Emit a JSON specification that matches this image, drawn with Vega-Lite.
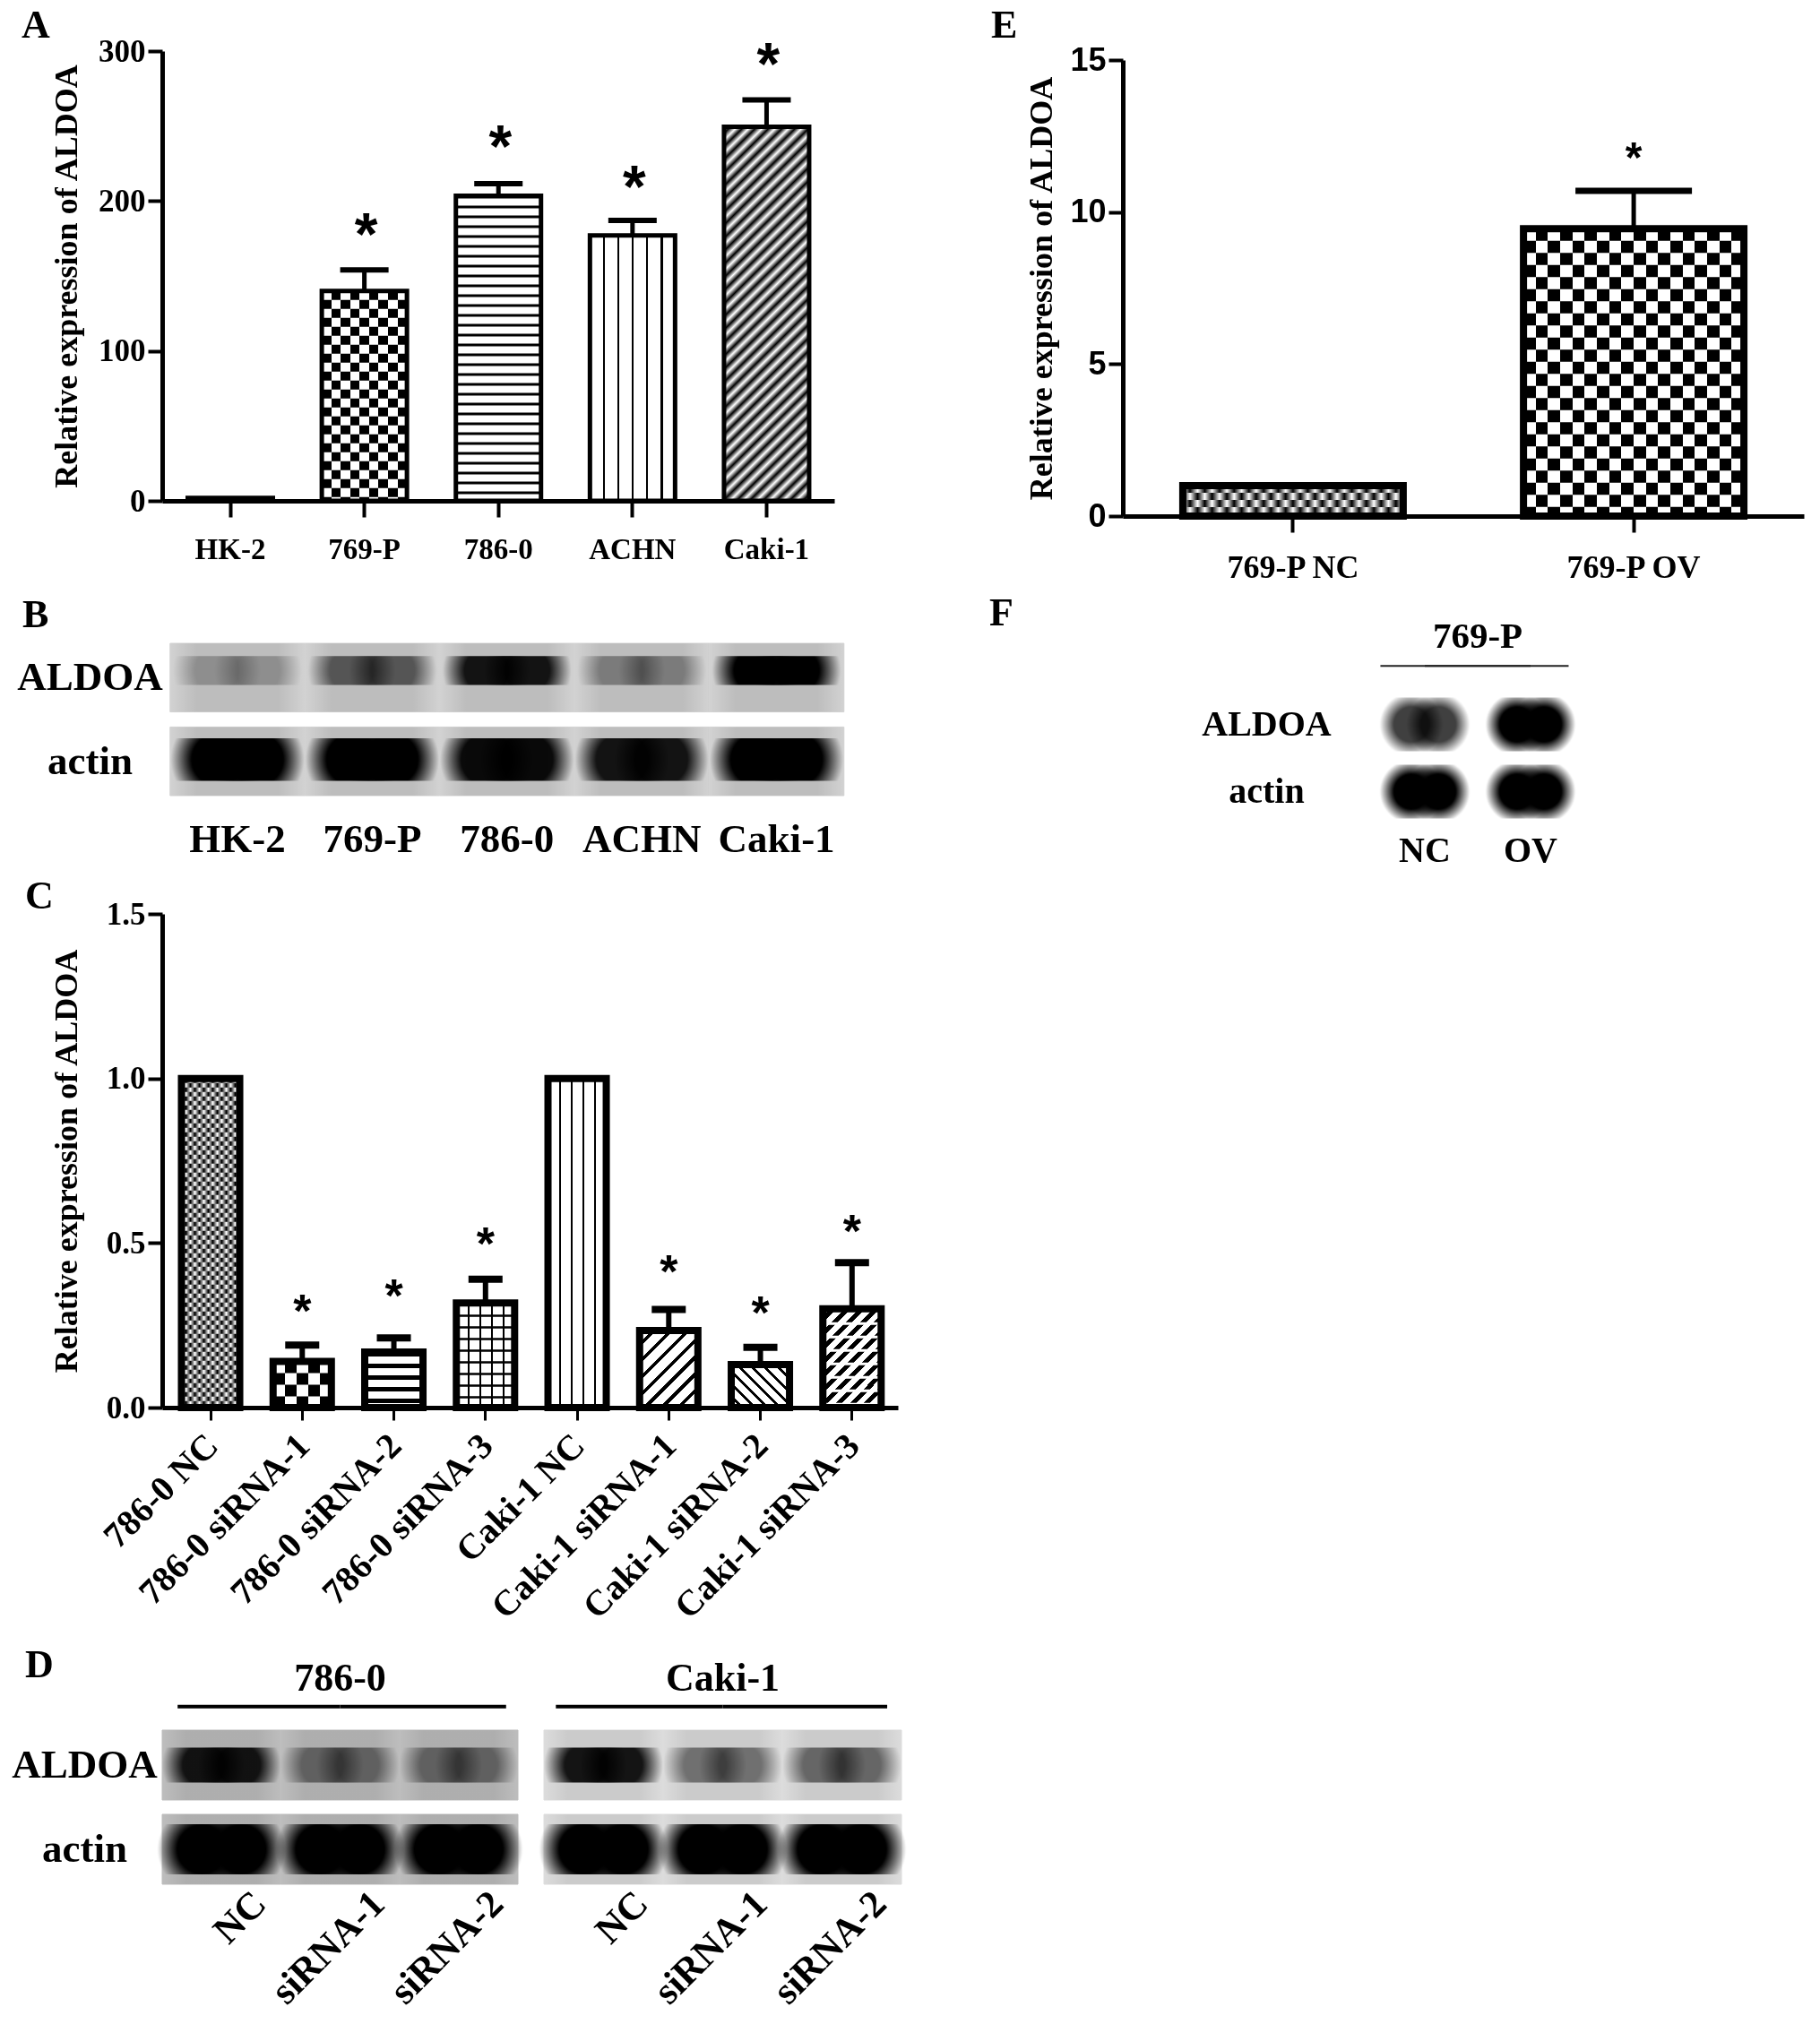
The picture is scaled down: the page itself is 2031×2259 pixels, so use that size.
{"$schema":"https://vega.github.io/schema/vega-lite/v6.json","padding":{"left":12,"top":7,"right":5,"bottom":5},"background":"white",
"config":{"view":{"stroke":null},"title":{"font":"Liberation Serif","fontSize":44,"fontWeight":"bold","color":"#000","anchor":"start","frame":"group"},"axis":{"grid":false,"labelFont":"Liberation Serif","titleFont":"Liberation Serif","labelFontWeight":"bold","titleFontWeight":"bold","labelColor":"#000","titleColor":"#000","domainColor":"#000","tickColor":"#000","labelOverlap":false,"labelLimit":600}},
"datasets":{
"a":[{"cell":"HK-2","value":2},{"cell":"769-P","value":140,"err":154,"star":182},{"cell":"786-0","value":203.5,"err":211.5,"star":241},{"cell":"ACHN","value":177,"err":187,"star":214},{"cell":"Caki-1","value":249.5,"err":267.5,"star":296}],
"c":[{"cell":"786-0 NC","value":1},{"cell":"786-0 siRNA-1","value":0.14,"err":0.19,"star":0.312},{"cell":"786-0 siRNA-2","value":0.169,"err":0.212,"star":0.358},{"cell":"786-0 siRNA-3","value":0.318,"err":0.39,"star":0.517},{"cell":"Caki-1 NC","value":1},{"cell":"Caki-1 siRNA-1","value":0.234,"err":0.298,"star":0.434},{"cell":"Caki-1 siRNA-2","value":0.131,"err":0.183,"star":0.307},{"cell":"Caki-1 siRNA-3","value":0.3,"err":0.44,"star":0.555}],
"e":[{"cell":"769-P NC","value":1},{"cell":"769-P OV","value":9.45,"err":10.7,"star":11.97}],
"b":[{"lane":"HK-2","row":"ALDOA","v":0.25},{"lane":"769-P","row":"ALDOA","v":0.55},{"lane":"786-0","row":"ALDOA","v":0.9},{"lane":"ACHN","row":"ALDOA","v":0.35},{"lane":"Caki-1","row":"ALDOA","v":1},{"lane":"HK-2","row":"actin","v":1},{"lane":"769-P","row":"actin","v":1},{"lane":"786-0","row":"actin","v":0.95},{"lane":"ACHN","row":"actin","v":0.9},{"lane":"Caki-1","row":"actin","v":1}],
"d1":[{"lane":"NC","row":"ALDOA","v":0.9},{"lane":"siRNA-1","row":"ALDOA","v":0.45},{"lane":"siRNA-2","row":"ALDOA","v":0.45},{"lane":"NC","row":"actin","v":1},{"lane":"siRNA-1","row":"actin","v":1},{"lane":"siRNA-2","row":"actin","v":1}],
"d2":[{"lane":"NC","row":"ALDOA","v":0.9},{"lane":"siRNA-1","row":"ALDOA","v":0.45},{"lane":"siRNA-2","row":"ALDOA","v":0.5},{"lane":"NC","row":"actin","v":1},{"lane":"siRNA-1","row":"actin","v":1},{"lane":"siRNA-2","row":"actin","v":1}],
"f":[{"lane":"NC","row":"ALDOA","v":0.75},{"lane":"OV","row":"ALDOA","v":1},{"lane":"NC","row":"actin","v":1},{"lane":"OV","row":"actin","v":1}]
},
"hconcat":[
{"vconcat":[
{"vconcat":[
{"title":{"text":"A","dx":-157,"offset":12,"dy":23},"width":750,"height":502,"data":{"name":"a"},
"encoding":{"x":{"field":"cell","type":"nominal","scale":{"domain":["HK-2","769-P","786-0","ACHN","Caki-1"],"paddingInner":0.365,"paddingOuter":0.189,"align":0.504},"axis":{"title":null,"labelAngle":0,"labelFontSize":33,"domainWidth":5,"tickWidth":4,"tickSize":18,"labelPadding":20}},
"y":{"field":"value","type":"quantitative","scale":{"domain":[0,300],"nice":false},"axis":{"title":"Relative expression of ALDOA","titleFontSize":36,"labelFontSize":35,"values":[0,100,200,300],"domainWidth":5,"tickWidth":4,"tickSize":16,"labelPadding":3,"titlePadding":16}}},
"layer":[
{"transform":[{"filter":"datum.cell=='769-P'"}],"mark":{"type":"bar","fill":{"gradient":"linear","x1":0,"y1":0,"x2":1,"y2":0,"stops":[{"offset":0,"color":"#000"},{"offset":0.111,"color":"#000"},{"offset":0.111,"color":"#fff"},{"offset":0.222,"color":"#fff"},{"offset":0.222,"color":"#000"},{"offset":0.333,"color":"#000"},{"offset":0.333,"color":"#fff"},{"offset":0.444,"color":"#fff"},{"offset":0.444,"color":"#000"},{"offset":0.556,"color":"#000"},{"offset":0.556,"color":"#fff"},{"offset":0.667,"color":"#fff"},{"offset":0.667,"color":"#000"},{"offset":0.778,"color":"#000"},{"offset":0.778,"color":"#fff"},{"offset":0.889,"color":"#fff"},{"offset":0.889,"color":"#000"},{"offset":1,"color":"#000"}]}}},
{"transform":[{"filter":"datum.cell=='769-P'"}],"mark":{"type":"rule","stroke":"#fff","strokeWidth":95,"strokeDash":[10,10],"blend":"difference"},"encoding":{"y2":{"datum":0}}},
{"transform":[{"filter":"datum.cell=='786-0'"}],"mark":{"type":"rule","stroke":"#000","strokeWidth":95,"strokeDash":[3,8]},"encoding":{"y2":{"datum":0}}},
{"transform":[{"filter":"datum.cell=='ACHN'"}],"mark":{"type":"bar","fill":{"gradient":"linear","x1":0,"y1":0,"x2":1,"y2":0,"stops":[{"offset":0.15,"color":"#fff"},{"offset":0.15,"color":"#000"},{"offset":0.175,"color":"#000"},{"offset":0.175,"color":"#fff"},{"offset":0.32,"color":"#fff"},{"offset":0.32,"color":"#000"},{"offset":0.345,"color":"#000"},{"offset":0.345,"color":"#fff"},{"offset":0.49,"color":"#fff"},{"offset":0.49,"color":"#000"},{"offset":0.515,"color":"#000"},{"offset":0.515,"color":"#fff"},{"offset":0.66,"color":"#fff"},{"offset":0.66,"color":"#000"},{"offset":0.685,"color":"#000"},{"offset":0.685,"color":"#fff"},{"offset":0.83,"color":"#fff"},{"offset":0.83,"color":"#000"},{"offset":0.855,"color":"#000"},{"offset":0.855,"color":"#fff"}]}}},
{"transform":[{"filter":"datum.cell=='Caki-1'"}],"mark":{"type":"bar","fill":{"gradient":"linear","x1":0,"y1":0,"x2":0.262,"y2":1.166,"stops":[{"offset":0,"color":"#fff"},{"offset":0.014,"color":"#000"},{"offset":0.029,"color":"#fff"},{"offset":0.043,"color":"#000"},{"offset":0.057,"color":"#fff"},{"offset":0.071,"color":"#000"},{"offset":0.086,"color":"#fff"},{"offset":0.1,"color":"#000"},{"offset":0.114,"color":"#fff"},{"offset":0.129,"color":"#000"},{"offset":0.143,"color":"#fff"},{"offset":0.157,"color":"#000"},{"offset":0.171,"color":"#fff"},{"offset":0.186,"color":"#000"},{"offset":0.2,"color":"#fff"},{"offset":0.214,"color":"#000"},{"offset":0.229,"color":"#fff"},{"offset":0.243,"color":"#000"},{"offset":0.257,"color":"#fff"},{"offset":0.271,"color":"#000"},{"offset":0.286,"color":"#fff"},{"offset":0.3,"color":"#000"},{"offset":0.314,"color":"#fff"},{"offset":0.329,"color":"#000"},{"offset":0.343,"color":"#fff"},{"offset":0.357,"color":"#000"},{"offset":0.371,"color":"#fff"},{"offset":0.386,"color":"#000"},{"offset":0.4,"color":"#fff"},{"offset":0.414,"color":"#000"},{"offset":0.429,"color":"#fff"},{"offset":0.443,"color":"#000"},{"offset":0.457,"color":"#fff"},{"offset":0.471,"color":"#000"},{"offset":0.486,"color":"#fff"},{"offset":0.5,"color":"#000"},{"offset":0.514,"color":"#fff"},{"offset":0.529,"color":"#000"},{"offset":0.543,"color":"#fff"},{"offset":0.557,"color":"#000"},{"offset":0.571,"color":"#fff"},{"offset":0.586,"color":"#000"},{"offset":0.6,"color":"#fff"},{"offset":0.614,"color":"#000"},{"offset":0.629,"color":"#fff"},{"offset":0.643,"color":"#000"},{"offset":0.657,"color":"#fff"},{"offset":0.671,"color":"#000"},{"offset":0.686,"color":"#fff"},{"offset":0.7,"color":"#000"},{"offset":0.714,"color":"#fff"},{"offset":0.729,"color":"#000"},{"offset":0.743,"color":"#fff"},{"offset":0.757,"color":"#000"},{"offset":0.771,"color":"#fff"},{"offset":0.786,"color":"#000"},{"offset":0.8,"color":"#fff"},{"offset":0.814,"color":"#000"},{"offset":0.829,"color":"#fff"},{"offset":0.843,"color":"#000"},{"offset":0.857,"color":"#fff"},{"offset":0.871,"color":"#000"},{"offset":0.886,"color":"#fff"},{"offset":0.9,"color":"#000"},{"offset":0.914,"color":"#fff"},{"offset":0.929,"color":"#000"},{"offset":0.943,"color":"#fff"},{"offset":0.957,"color":"#000"},{"offset":0.971,"color":"#fff"},{"offset":0.986,"color":"#000"},{"offset":1,"color":"#fff"}]}}},
{"mark":{"type":"rule","stroke":"#000","strokeWidth":5},"encoding":{"y2":{"field":"err"}},"transform":[{"filter":"datum.err>0"}]},
{"mark":{"type":"tick","orient":"horizontal","color":"#000","size":54,"thickness":6,"opacity":1},"encoding":{"y":{"field":"err","type":"quantitative"}},"transform":[{"filter":"datum.err>0"}]},
{"mark":{"type":"bar","fillOpacity":0,"stroke":"#000","strokeWidth":5}},
{"mark":{"type":"text","font":"Liberation Sans","fontWeight":"bold","fontSize":66,"color":"#000","baseline":"middle","dy":10,"dx":2},"encoding":{"y":{"field":"star","type":"quantitative"},"text":{"value":"*"}},"transform":[{"filter":"datum.star>0"}]}
]},
{"title":{"text":"B","dx":-156,"offset":9},"width":763,"height":170,"data":{"name":"b"},
"encoding":{"x":{"field":"lane","type":"nominal","scale":{"domain":["HK-2","769-P","786-0","ACHN","Caki-1"],"paddingInner":0,"paddingOuter":0.0366,"align":0.8},"axis":{"title":null,"labelAngle":0,"labelFontSize":45,"domain":false,"ticks":false,"labelPadding":26}},
"y":{"field":"row","type":"nominal","scale":{"domain":["ALDOA","actin"],"paddingInner":0.18,"paddingOuter":0},"axis":{"title":null,"domain":false,"ticks":false,"labelFontSize":45,"labelAlign":"center","labelPadding":81}},"opacity":{"field":"v","type":"quantitative","scale":{"domain":[0,1],"range":[0,1]},"legend":null}},
"layer":[
{"mark":{"type":"bar","fill":"#d2d2d2","stroke":"#d2d2d2","strokeWidth":1},"encoding":{"opacity":{"value":1}}},
{"mark":{"type":"bar","width":{"band":1},"fill":{"gradient":"linear","x1":0,"y1":0,"x2":1,"y2":0,"stops":[{"offset":0,"color":"rgba(0,0,0,0)"},{"offset":0.2,"color":"rgba(0,0,0,0.1)"},{"offset":0.8,"color":"rgba(0,0,0,0.1)"},{"offset":1,"color":"rgba(0,0,0,0)"}]}},"encoding":{"opacity":{"value":1}}},
{"transform":[{"filter":"datum.row=='ALDOA'"}],"mark":{"type":"bar","width":{"band":0.65},"height":{"band":0.42},"xOffset":-23,"yOffset":-8,"fill":{"gradient":"radial","stops":[{"offset":0,"color":"#000"},{"offset":0.5,"color":"#000"},{"offset":1,"color":"rgba(0,0,0,0)"}]}}},
{"transform":[{"filter":"datum.row=='ALDOA'"}],"mark":{"type":"bar","width":{"band":0.65},"height":{"band":0.42},"xOffset":23,"yOffset":-8,"fill":{"gradient":"radial","stops":[{"offset":0,"color":"#000"},{"offset":0.5,"color":"#000"},{"offset":1,"color":"rgba(0,0,0,0)"}]}}},
{"transform":[{"filter":"datum.row=='actin'"}],"mark":{"type":"bar","width":{"band":0.7},"height":{"band":0.62},"xOffset":-22,"yOffset":-2,"fill":{"gradient":"radial","stops":[{"offset":0,"color":"#000"},{"offset":0.55,"color":"#000"},{"offset":1,"color":"rgba(0,0,0,0)"}]}}},
{"transform":[{"filter":"datum.row=='actin'"}],"mark":{"type":"bar","width":{"band":0.7},"height":{"band":0.62},"xOffset":22,"yOffset":-2,"fill":{"gradient":"radial","stops":[{"offset":0,"color":"#000"},{"offset":0.55,"color":"#000"},{"offset":1,"color":"rgba(0,0,0,0)"}]}}}
]}
],"spacing":34,"align":"none"},
{"vconcat":[
{"title":{"text":"C","dx":-153,"offset":2,"dy":22},"width":821,"height":551,"data":{"name":"c"},
"encoding":{"x":{"field":"cell","type":"nominal","scale":{"domain":["786-0 NC","786-0 siRNA-1","786-0 siRNA-2","786-0 siRNA-3","Caki-1 NC","Caki-1 siRNA-1","Caki-1 siRNA-2","Caki-1 siRNA-3"],"paddingInner":0.364,"paddingOuter":0.1965,"align":0.535},"axis":{"title":null,"labelAngle":-45,"labelAlign":"right","labelBaseline":"top","labelFontSize":40,"domainWidth":5,"tickWidth":3,"tickSize":14,"labelPadding":8,"labelOffset":-12}},
"y":{"field":"value","type":"quantitative","scale":{"domain":[0,1.5],"nice":false},"axis":{"title":"Relative expression of ALDOA","titleFontSize":36,"labelFontSize":35,"values":[0,0.5,1,1.5],"format":".1f","domainWidth":5,"tickWidth":4,"tickSize":16,"labelPadding":3,"titlePadding":25}}},
"layer":[
{"transform":[{"filter":"datum.cell=='786-0 NC'"}],"mark":{"type":"bar","fill":{"gradient":"linear","x1":0,"y1":0,"x2":1,"y2":0,"stops":[{"offset":0,"color":"#000"},{"offset":0.077,"color":"#fff"},{"offset":0.154,"color":"#000"},{"offset":0.231,"color":"#fff"},{"offset":0.308,"color":"#000"},{"offset":0.385,"color":"#fff"},{"offset":0.462,"color":"#000"},{"offset":0.538,"color":"#fff"},{"offset":0.615,"color":"#000"},{"offset":0.692,"color":"#fff"},{"offset":0.769,"color":"#000"},{"offset":0.846,"color":"#fff"},{"offset":0.923,"color":"#000"},{"offset":1,"color":"#fff"}]}}},
{"transform":[{"filter":"datum.cell=='786-0 NC'"}],"mark":{"type":"rule","stroke":"#fff","strokeWidth":65,"strokeDash":[5,5],"blend":"difference"},"encoding":{"y2":{"datum":0}}},
{"transform":[{"filter":"datum.cell=='786-0 siRNA-1'"}],"mark":{"type":"bar","fill":{"gradient":"linear","x1":0,"y1":0,"x2":1,"y2":0,"stops":[{"offset":0,"color":"#000"},{"offset":0.2,"color":"#000"},{"offset":0.2,"color":"#fff"},{"offset":0.4,"color":"#fff"},{"offset":0.4,"color":"#000"},{"offset":0.6,"color":"#000"},{"offset":0.6,"color":"#fff"},{"offset":0.8,"color":"#fff"},{"offset":0.8,"color":"#000"},{"offset":1,"color":"#000"}]}}},
{"transform":[{"filter":"datum.cell=='786-0 siRNA-1'"}],"mark":{"type":"rule","stroke":"#fff","strokeWidth":65,"strokeDash":[13,13],"blend":"difference"},"encoding":{"y2":{"datum":0}}},
{"transform":[{"filter":"datum.cell=='786-0 siRNA-2'"}],"mark":{"type":"rule","stroke":"#000","strokeWidth":65,"strokeDash":[5,8]},"encoding":{"y2":{"datum":0}}},
{"transform":[{"filter":"datum.cell=='786-0 siRNA-3'"}],"mark":{"type":"bar","fill":{"gradient":"linear","x1":0,"y1":0,"x2":1,"y2":0,"stops":[{"offset":0.19,"color":"#fff"},{"offset":0.19,"color":"#000"},{"offset":0.23,"color":"#000"},{"offset":0.23,"color":"#fff"},{"offset":0.39,"color":"#fff"},{"offset":0.39,"color":"#000"},{"offset":0.43,"color":"#000"},{"offset":0.43,"color":"#fff"},{"offset":0.59,"color":"#fff"},{"offset":0.59,"color":"#000"},{"offset":0.63,"color":"#000"},{"offset":0.63,"color":"#fff"},{"offset":0.79,"color":"#fff"},{"offset":0.79,"color":"#000"},{"offset":0.83,"color":"#000"},{"offset":0.83,"color":"#fff"}]}}},
{"transform":[{"filter":"datum.cell=='786-0 siRNA-3'"}],"mark":{"type":"rule","stroke":"#000","strokeWidth":65,"strokeDash":[2.5,10.5]},"encoding":{"y2":{"datum":0}}},
{"transform":[{"filter":"datum.cell=='Caki-1 NC'"}],"mark":{"type":"bar","fill":{"gradient":"linear","x1":0,"y1":0,"x2":1,"y2":0,"stops":[{"offset":0.19,"color":"#fff"},{"offset":0.19,"color":"#000"},{"offset":0.22,"color":"#000"},{"offset":0.22,"color":"#fff"},{"offset":0.39,"color":"#fff"},{"offset":0.39,"color":"#000"},{"offset":0.42,"color":"#000"},{"offset":0.42,"color":"#fff"},{"offset":0.59,"color":"#fff"},{"offset":0.59,"color":"#000"},{"offset":0.62,"color":"#000"},{"offset":0.62,"color":"#fff"},{"offset":0.79,"color":"#fff"},{"offset":0.79,"color":"#000"},{"offset":0.82,"color":"#000"},{"offset":0.82,"color":"#fff"}]}}},
{"transform":[{"filter":"datum.cell=='Caki-1 siRNA-1'"}],"mark":{"type":"bar","fill":{"gradient":"linear","x1":0,"y1":0,"x2":0.845,"y2":1.118,"stops":[{"offset":0,"color":"#fff"},{"offset":0.09,"color":"#fff"},{"offset":0.09,"color":"#000"},{"offset":0.125,"color":"#000"},{"offset":0.125,"color":"#fff"},{"offset":0.215,"color":"#fff"},{"offset":0.215,"color":"#000"},{"offset":0.25,"color":"#000"},{"offset":0.25,"color":"#fff"},{"offset":0.34,"color":"#fff"},{"offset":0.34,"color":"#000"},{"offset":0.375,"color":"#000"},{"offset":0.375,"color":"#fff"},{"offset":0.465,"color":"#fff"},{"offset":0.465,"color":"#000"},{"offset":0.5,"color":"#000"},{"offset":0.5,"color":"#fff"},{"offset":0.59,"color":"#fff"},{"offset":0.59,"color":"#000"},{"offset":0.625,"color":"#000"},{"offset":0.625,"color":"#fff"},{"offset":0.715,"color":"#fff"},{"offset":0.715,"color":"#000"},{"offset":0.75,"color":"#000"},{"offset":0.75,"color":"#fff"},{"offset":0.84,"color":"#fff"},{"offset":0.84,"color":"#000"},{"offset":0.875,"color":"#000"},{"offset":0.875,"color":"#fff"}]}}},
{"transform":[{"filter":"datum.cell=='Caki-1 siRNA-2'"}],"mark":{"type":"bar","fill":{"gradient":"linear","x1":0,"y1":1,"x2":1.125,"y2":0.17,"stops":[{"offset":0,"color":"#fff"},{"offset":0.09,"color":"#fff"},{"offset":0.09,"color":"#000"},{"offset":0.125,"color":"#000"},{"offset":0.125,"color":"#fff"},{"offset":0.215,"color":"#fff"},{"offset":0.215,"color":"#000"},{"offset":0.25,"color":"#000"},{"offset":0.25,"color":"#fff"},{"offset":0.34,"color":"#fff"},{"offset":0.34,"color":"#000"},{"offset":0.375,"color":"#000"},{"offset":0.375,"color":"#fff"},{"offset":0.465,"color":"#fff"},{"offset":0.465,"color":"#000"},{"offset":0.5,"color":"#000"},{"offset":0.5,"color":"#fff"},{"offset":0.59,"color":"#fff"},{"offset":0.59,"color":"#000"},{"offset":0.625,"color":"#000"},{"offset":0.625,"color":"#fff"},{"offset":0.715,"color":"#fff"},{"offset":0.715,"color":"#000"},{"offset":0.75,"color":"#000"},{"offset":0.75,"color":"#fff"},{"offset":0.84,"color":"#fff"},{"offset":0.84,"color":"#000"},{"offset":0.875,"color":"#000"},{"offset":0.875,"color":"#fff"}]}}},
{"transform":[{"filter":"datum.cell=='Caki-1 siRNA-3'"}],"mark":{"type":"bar","fill":{"gradient":"linear","x1":0,"y1":0,"x2":0.697,"y2":1.179,"stops":[{"offset":0,"color":"#fff"},{"offset":0.05,"color":"#fff"},{"offset":0.05,"color":"#000"},{"offset":0.09,"color":"#000"},{"offset":0.09,"color":"#fff"},{"offset":0.14,"color":"#fff"},{"offset":0.14,"color":"#000"},{"offset":0.18,"color":"#000"},{"offset":0.18,"color":"#fff"},{"offset":0.23,"color":"#fff"},{"offset":0.23,"color":"#000"},{"offset":0.27,"color":"#000"},{"offset":0.27,"color":"#fff"},{"offset":0.32,"color":"#fff"},{"offset":0.32,"color":"#000"},{"offset":0.36,"color":"#000"},{"offset":0.36,"color":"#fff"},{"offset":0.41,"color":"#fff"},{"offset":0.41,"color":"#000"},{"offset":0.45,"color":"#000"},{"offset":0.45,"color":"#fff"},{"offset":0.5,"color":"#fff"},{"offset":0.5,"color":"#000"},{"offset":0.54,"color":"#000"},{"offset":0.54,"color":"#fff"},{"offset":0.59,"color":"#fff"},{"offset":0.59,"color":"#000"},{"offset":0.63,"color":"#000"},{"offset":0.63,"color":"#fff"},{"offset":0.68,"color":"#fff"},{"offset":0.68,"color":"#000"},{"offset":0.72,"color":"#000"},{"offset":0.72,"color":"#fff"},{"offset":0.77,"color":"#fff"},{"offset":0.77,"color":"#000"},{"offset":0.81,"color":"#000"},{"offset":0.81,"color":"#fff"},{"offset":0.86,"color":"#fff"},{"offset":0.86,"color":"#000"},{"offset":0.9,"color":"#000"},{"offset":0.9,"color":"#fff"}]}}},
{"transform":[{"filter":"datum.cell=='Caki-1 siRNA-3'"}],"mark":{"type":"rule","stroke":"#fff","strokeWidth":65,"strokeDash":[3,12]},"encoding":{"y2":{"datum":0}}},
{"mark":{"type":"rule","stroke":"#000","strokeWidth":6},"encoding":{"y2":{"field":"err"}},"transform":[{"filter":"datum.err>0"}]},
{"mark":{"type":"tick","orient":"horizontal","color":"#000","size":38,"thickness":8,"opacity":1},"encoding":{"y":{"field":"err","type":"quantitative"}},"transform":[{"filter":"datum.err>0"}]},
{"mark":{"type":"bar","fillOpacity":0,"stroke":"#000","strokeWidth":8}},
{"mark":{"type":"text","font":"Liberation Sans","fontWeight":"bold","fontSize":52,"color":"#000","baseline":"middle","dy":9,"dx":0},"encoding":{"y":{"field":"star","type":"quantitative"},"text":{"value":"*"}},"transform":[{"filter":"datum.star>0"}]}
]},
{"hconcat":[
{"title":{"text":"D","dx":-153,"dy":48},"width":397,"height":266,"data":{"name":"d1"},
"encoding":{"x":{"field":"lane","type":"nominal","scale":{"domain":["NC","siRNA-1","siRNA-2"],"paddingInner":0,"paddingOuter":0},"axis":{"title":null,"labelAngle":-45,"labelAlign":"right","labelBaseline":"top","labelFontSize":43,"domain":false,"ticks":false,"labelPadding":0,"labelOffset":28}},
"y":{"field":"row","type":"nominal","scale":{"domain":["hdr","ALDOA","actin"],"paddingInner":0.17,"paddingOuter":0},"axis":{"title":null,"domain":false,"ticks":false,"labelFontSize":45,"labelAlign":"center","labelPadding":87,"labelExpr":"datum.value=='hdr'?'':datum.value"}},"opacity":{"field":"v","type":"quantitative","scale":{"domain":[0,1],"range":[0,1]},"legend":null}},
"layer":[
{"mark":{"type":"bar","fill":"#bdbdbd","stroke":"#bdbdbd","strokeWidth":1},"encoding":{"opacity":{"value":1}}},
{"mark":{"type":"bar","width":{"band":1},"fill":{"gradient":"linear","x1":0,"y1":0,"x2":1,"y2":0,"stops":[{"offset":0,"color":"rgba(0,0,0,0)"},{"offset":0.2,"color":"rgba(0,0,0,0.08)"},{"offset":0.8,"color":"rgba(0,0,0,0.08)"},{"offset":1,"color":"rgba(0,0,0,0)"}]}},"encoding":{"opacity":{"value":1}}},
{"transform":[{"filter":"datum.row=='ALDOA'"}],"mark":{"type":"bar","width":{"band":0.7},"height":{"band":0.5},"xOffset":-20,"fill":{"gradient":"radial","stops":[{"offset":0,"color":"#000"},{"offset":0.5,"color":"#000"},{"offset":1,"color":"rgba(0,0,0,0)"}]}}},
{"transform":[{"filter":"datum.row=='ALDOA'"}],"mark":{"type":"bar","width":{"band":0.7},"height":{"band":0.5},"xOffset":20,"fill":{"gradient":"radial","stops":[{"offset":0,"color":"#000"},{"offset":0.5,"color":"#000"},{"offset":1,"color":"rgba(0,0,0,0)"}]}}},
{"transform":[{"filter":"datum.row=='actin'"}],"mark":{"type":"bar","width":{"band":0.75},"height":{"band":0.72},"xOffset":-22,"fill":{"gradient":"radial","stops":[{"offset":0,"color":"#000"},{"offset":0.55,"color":"#000"},{"offset":1,"color":"rgba(0,0,0,0)"}]}}},
{"transform":[{"filter":"datum.row=='actin'"}],"mark":{"type":"bar","width":{"band":0.75},"height":{"band":0.72},"xOffset":22,"fill":{"gradient":"radial","stops":[{"offset":0,"color":"#000"},{"offset":0.55,"color":"#000"},{"offset":1,"color":"rgba(0,0,0,0)"}]}}},
{"data":{"values":[{"g":"786-0"}]},"mark":{"type":"text","font":"Liberation Serif","fontWeight":"bold","fontSize":44,"color":"#000"},"encoding":{"x":{"datum":"siRNA-1","type":"nominal"},"y":{"datum":"hdr","type":"nominal","bandPosition":0.47},"text":{"field":"g"},"opacity":{"value":1}}},
{"data":{"values":[{"g":"786-0"}]},"mark":{"type":"rule","stroke":"#000","strokeWidth":4},"encoding":{"x":{"datum":"NC","type":"nominal","bandPosition":0.13},"x2":{"datum":"siRNA-1"},"y":{"datum":"hdr","type":"nominal","bandPosition":0.87},"opacity":{"value":1}}},
{"data":{"values":[{"g":"786-0"}]},"mark":{"type":"rule","stroke":"#000","strokeWidth":4},"encoding":{"x":{"datum":"siRNA-2","type":"nominal","bandPosition":0.9},"x2":{"datum":"siRNA-1"},"y":{"datum":"hdr","type":"nominal","bandPosition":0.87},"opacity":{"value":1}}}
]},
{"width":399,"height":266,"data":{"name":"d2"},
"encoding":{"x":{"field":"lane","type":"nominal","scale":{"domain":["NC","siRNA-1","siRNA-2"],"paddingInner":0,"paddingOuter":0},"axis":{"title":null,"labelAngle":-45,"labelAlign":"right","labelBaseline":"top","labelFontSize":43,"domain":false,"ticks":false,"labelPadding":0,"labelOffset":28}},
"y":{"field":"row","type":"nominal","scale":{"domain":["hdr","ALDOA","actin"],"paddingInner":0.17,"paddingOuter":0},"axis":null},"opacity":{"field":"v","type":"quantitative","scale":{"domain":[0,1],"range":[0,1]},"legend":null}},
"layer":[
{"mark":{"type":"bar","fill":"#dcdcdc","stroke":"#dcdcdc","strokeWidth":1},"encoding":{"opacity":{"value":1}}},
{"mark":{"type":"bar","width":{"band":1},"fill":{"gradient":"linear","x1":0,"y1":0,"x2":1,"y2":0,"stops":[{"offset":0,"color":"rgba(0,0,0,0)"},{"offset":0.2,"color":"rgba(0,0,0,0.08)"},{"offset":0.8,"color":"rgba(0,0,0,0.08)"},{"offset":1,"color":"rgba(0,0,0,0)"}]}},"encoding":{"opacity":{"value":1}}},
{"transform":[{"filter":"datum.row=='ALDOA'"}],"mark":{"type":"bar","width":{"band":0.7},"height":{"band":0.5},"xOffset":-20,"fill":{"gradient":"radial","stops":[{"offset":0,"color":"#000"},{"offset":0.5,"color":"#000"},{"offset":1,"color":"rgba(0,0,0,0)"}]}}},
{"transform":[{"filter":"datum.row=='ALDOA'"}],"mark":{"type":"bar","width":{"band":0.7},"height":{"band":0.5},"xOffset":20,"fill":{"gradient":"radial","stops":[{"offset":0,"color":"#000"},{"offset":0.5,"color":"#000"},{"offset":1,"color":"rgba(0,0,0,0)"}]}}},
{"transform":[{"filter":"datum.row=='actin'"}],"mark":{"type":"bar","width":{"band":0.75},"height":{"band":0.72},"xOffset":-22,"fill":{"gradient":"radial","stops":[{"offset":0,"color":"#000"},{"offset":0.55,"color":"#000"},{"offset":1,"color":"rgba(0,0,0,0)"}]}}},
{"transform":[{"filter":"datum.row=='actin'"}],"mark":{"type":"bar","width":{"band":0.75},"height":{"band":0.72},"xOffset":22,"fill":{"gradient":"radial","stops":[{"offset":0,"color":"#000"},{"offset":0.55,"color":"#000"},{"offset":1,"color":"rgba(0,0,0,0)"}]}}},
{"data":{"values":[{"g":"Caki-1"}]},"mark":{"type":"text","font":"Liberation Serif","fontWeight":"bold","fontSize":44,"color":"#000"},"encoding":{"x":{"datum":"siRNA-1","type":"nominal"},"y":{"datum":"hdr","type":"nominal","bandPosition":0.47},"text":{"field":"g"},"opacity":{"value":1}}},
{"data":{"values":[{"g":"Caki-1"}]},"mark":{"type":"rule","stroke":"#000","strokeWidth":4},"encoding":{"x":{"datum":"NC","type":"nominal","bandPosition":0.1},"x2":{"datum":"siRNA-1"},"y":{"datum":"hdr","type":"nominal","bandPosition":0.87},"opacity":{"value":1}}},
{"data":{"values":[{"g":"Caki-1"}]},"mark":{"type":"rule","stroke":"#000","strokeWidth":4},"encoding":{"x":{"datum":"siRNA-2","type":"nominal","bandPosition":0.88},"x2":{"datum":"siRNA-1"},"y":{"datum":"hdr","type":"nominal","bandPosition":0.87},"opacity":{"value":1}}}
]}
],"spacing":17,"align":"none"}
],"spacing":23,"align":"none"}
],"spacing":20,"align":"none"},
{"vconcat":[
{"title":{"text":"E","dx":-147,"offset":12,"dy":14},"width":760,"height":519,"data":{"name":"e"},
"encoding":{"x":{"field":"cell","type":"nominal","scale":{"domain":["769-P NC","769-P OV"],"paddingInner":0.353,"paddingOuter":0.176},"axis":{"title":null,"labelAngle":0,"labelFontSize":36,"domainWidth":5,"tickWidth":4,"tickSize":18,"labelPadding":22}},
"y":{"field":"value","type":"quantitative","scale":{"domain":[0,15],"nice":false,"range":[519,10]},"axis":{"title":"Relative expression of ALDOA","titleFontSize":36,"labelFont":"Liberation Sans","labelFontSize":36,"values":[0,5,10,15],"domainWidth":5,"tickWidth":4,"tickSize":16,"labelPadding":3,"titlePadding":12}}},
"layer":[
{"transform":[{"filter":"datum.cell=='769-P NC'"}],"mark":{"type":"bar","fill":{"gradient":"linear","x1":0,"y1":0,"x2":1,"y2":0,"stops":[{"offset":0,"color":"#000"},{"offset":0.033,"color":"#fff"},{"offset":0.067,"color":"#000"},{"offset":0.1,"color":"#fff"},{"offset":0.133,"color":"#000"},{"offset":0.167,"color":"#fff"},{"offset":0.2,"color":"#000"},{"offset":0.233,"color":"#fff"},{"offset":0.267,"color":"#000"},{"offset":0.3,"color":"#fff"},{"offset":0.333,"color":"#000"},{"offset":0.367,"color":"#fff"},{"offset":0.4,"color":"#000"},{"offset":0.433,"color":"#fff"},{"offset":0.467,"color":"#000"},{"offset":0.5,"color":"#fff"},{"offset":0.533,"color":"#000"},{"offset":0.567,"color":"#fff"},{"offset":0.6,"color":"#000"},{"offset":0.633,"color":"#fff"},{"offset":0.667,"color":"#000"},{"offset":0.7,"color":"#fff"},{"offset":0.733,"color":"#000"},{"offset":0.767,"color":"#fff"},{"offset":0.8,"color":"#000"},{"offset":0.833,"color":"#fff"},{"offset":0.867,"color":"#000"},{"offset":0.9,"color":"#fff"},{"offset":0.933,"color":"#000"},{"offset":0.967,"color":"#fff"},{"offset":1,"color":"#000"}]}}},
{"transform":[{"filter":"datum.cell=='769-P NC'"}],"mark":{"type":"rule","stroke":"#fff","strokeWidth":246,"strokeDash":[8,8],"blend":"difference"},"encoding":{"y2":{"datum":0}}},
{"transform":[{"filter":"datum.cell=='769-P OV'"}],"mark":{"type":"bar","fill":{"gradient":"linear","x1":0,"y1":0,"x2":1,"y2":0,"stops":[{"offset":0,"color":"#000"},{"offset":0.056,"color":"#000"},{"offset":0.056,"color":"#fff"},{"offset":0.111,"color":"#fff"},{"offset":0.111,"color":"#000"},{"offset":0.167,"color":"#000"},{"offset":0.167,"color":"#fff"},{"offset":0.222,"color":"#fff"},{"offset":0.222,"color":"#000"},{"offset":0.278,"color":"#000"},{"offset":0.278,"color":"#fff"},{"offset":0.333,"color":"#fff"},{"offset":0.333,"color":"#000"},{"offset":0.389,"color":"#000"},{"offset":0.389,"color":"#fff"},{"offset":0.444,"color":"#fff"},{"offset":0.444,"color":"#000"},{"offset":0.5,"color":"#000"},{"offset":0.5,"color":"#fff"},{"offset":0.556,"color":"#fff"},{"offset":0.556,"color":"#000"},{"offset":0.611,"color":"#000"},{"offset":0.611,"color":"#fff"},{"offset":0.667,"color":"#fff"},{"offset":0.667,"color":"#000"},{"offset":0.722,"color":"#000"},{"offset":0.722,"color":"#fff"},{"offset":0.778,"color":"#fff"},{"offset":0.778,"color":"#000"},{"offset":0.833,"color":"#000"},{"offset":0.833,"color":"#fff"},{"offset":0.889,"color":"#fff"},{"offset":0.889,"color":"#000"},{"offset":0.944,"color":"#000"},{"offset":0.944,"color":"#fff"},{"offset":1,"color":"#fff"}]}}},
{"transform":[{"filter":"datum.cell=='769-P OV'"}],"mark":{"type":"rule","stroke":"#fff","strokeWidth":246,"strokeDash":[13.5,13.5],"blend":"difference"},"encoding":{"y2":{"datum":0}}},
{"mark":{"type":"rule","stroke":"#000","strokeWidth":5},"encoding":{"y2":{"field":"err"}},"transform":[{"filter":"datum.err>0"}]},
{"mark":{"type":"tick","orient":"horizontal","color":"#000","size":130,"thickness":7,"opacity":1},"encoding":{"y":{"field":"err","type":"quantitative"}},"transform":[{"filter":"datum.err>0"}]},
{"mark":{"type":"bar","fillOpacity":0,"stroke":"#000","strokeWidth":8}},
{"mark":{"type":"text","font":"Liberation Sans","fontWeight":"bold","fontSize":48,"color":"#000","baseline":"middle","dy":8,"dx":0},"encoding":{"y":{"field":"star","type":"quantitative"},"text":{"value":"*"}},"transform":[{"filter":"datum.star>0"}]}
]},
{"title":{"text":"F","dx":-149,"dy":21},"width":514,"height":225,"data":{"name":"f"},
"encoding":{"x":{"field":"lane","type":"nominal","scale":{"domain":["_","NC","OV"],"paddingInner":0,"paddingOuter":0.678,"align":1},"axis":{"title":null,"labelAngle":0,"labelFontSize":40,"domain":false,"ticks":false,"labelPadding":8,"labelExpr":"datum.value=='_'?'':datum.value"}},
"y":{"field":"row","type":"nominal","scale":{"domain":["hdr","ALDOA","actin"],"paddingInner":0,"paddingOuter":0},"axis":{"title":null,"domain":false,"ticks":false,"labelFontSize":40,"labelAlign":"center","labelPadding":-160,"labelExpr":"datum.value=='hdr'?'':datum.value"}},"opacity":{"field":"v","type":"quantitative","scale":{"domain":[0,1],"range":[0,1]},"legend":null}},
"layer":[
{"mark":{"type":"bar","width":{"band":0.6},"height":{"band":0.8},"xOffset":-15,"fill":{"gradient":"radial","stops":[{"offset":0,"color":"#000"},{"offset":0.55,"color":"#000"},{"offset":1,"color":"rgba(0,0,0,0)"}]}}},
{"mark":{"type":"bar","width":{"band":0.6},"height":{"band":0.8},"xOffset":15,"fill":{"gradient":"radial","stops":[{"offset":0,"color":"#000"},{"offset":0.55,"color":"#000"},{"offset":1,"color":"rgba(0,0,0,0)"}]}}},
{"data":{"values":[{"g":"769-P"}]},"mark":{"type":"text","font":"Liberation Serif","fontWeight":"bold","fontSize":41,"color":"#000"},"encoding":{"x":{"datum":"NC","type":"nominal","bandPosition":1},"y":{"datum":"hdr","type":"nominal","bandPosition":0.2},"text":{"field":"g"},"opacity":{"value":1}}},
{"data":{"values":[{"g":"769-P"}]},"mark":{"type":"rule","stroke":"#222","strokeWidth":2},"encoding":{"x":{"datum":"NC","type":"nominal","bandPosition":0.08},"x2":{"datum":"OV"},"y":{"datum":"hdr","type":"nominal","bandPosition":0.63},"opacity":{"value":1}}},
{"data":{"values":[{"g":"769-P"}]},"mark":{"type":"rule","stroke":"#222","strokeWidth":2},"encoding":{"x":{"datum":"OV","type":"nominal","bandPosition":0.86},"x2":{"datum":"NC"},"y":{"datum":"hdr","type":"nominal","bandPosition":0.63},"opacity":{"value":1}}}
]}
],"spacing":-36,"align":"none"}
],"spacing":92,"align":"none"}
